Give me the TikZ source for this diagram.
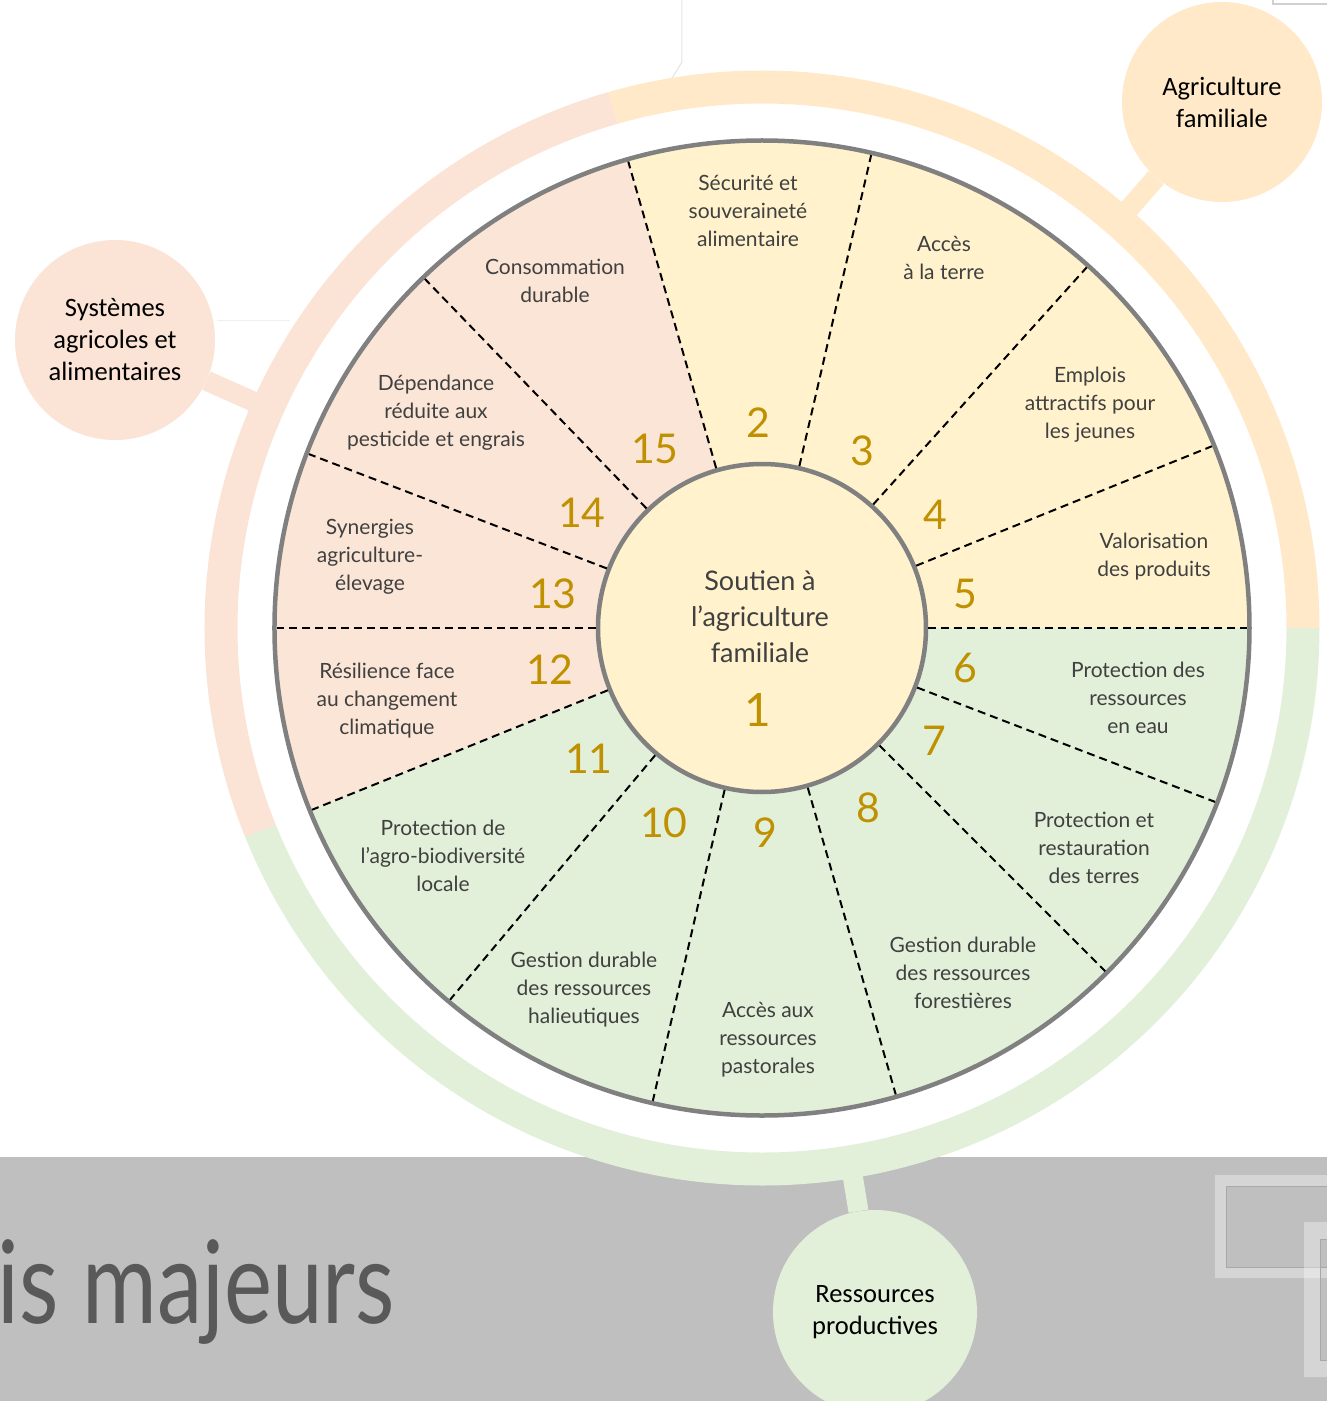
\documentclass[tikz,border=0pt]{standalone}
\usepackage{fontspec}
\setmainfont{Lato}
\newfontfamily\bubblefont{Carlito}
\definecolor{secY}{HTML}{FFF2CC}
\definecolor{secP}{HTML}{FBE5D6}
\definecolor{secG}{HTML}{E2F0D9}
\definecolor{ringY}{HTML}{FFE9C8}
\definecolor{ringP}{HTML}{FBE4D6}
\definecolor{ringG}{HTML}{E2F0DA}
\definecolor{outline}{HTML}{808080}
\definecolor{txtgray}{HTML}{404040}
\definecolor{gold}{HTML}{BF9000}
\definecolor{band}{HTML}{BFBFBF}
\definecolor{bigtxt}{HTML}{595959}
\definecolor{decoline}{HTML}{A8A8A8}
\definecolor{faint}{HTML}{E4E4E4}
\begin{document}
\begin{tikzpicture}[x=1pt,y=1pt,
  sectext/.style={text=txtgray, align=center, inner sep=0pt, font=\fontsize{21}{28}\selectfont},
  numtext/.style={text=gold, inner sep=0pt, font=\fontsize{41}{41}\selectfont},
  bubble/.style={circle, inner sep=0pt, align=center, text=black, font=\bubblefont\fontsize{26.5}{32}\selectfont},
  ringseg/.style={line width=33pt},
  stem/.style={line width=20pt},
  divider/.style={dash pattern=on 8pt off 5pt, line width=2pt, black, shorten >=2.25pt},
  frame/.style={white, opacity=0.35, even odd rule},
  decoline/.style={draw=decoline, line width=1pt}]
\useasboundingbox (-762,-773) rectangle (565,628);
\fill[white] (-762,-773) rectangle (565,628);
\begin{scope}
\clip (-762,-773) rectangle (565,628);
% faint slide artifacts
\draw[faint, line width=1pt] (-80,628) -- (-80,566) -- (-90,550);
\draw[faint!80!gray, line width=1.5pt] (511,628) -- (511,624) -- (565,624);
\draw[faint!60!white, line width=1pt] (-545,307) -- (-472,307);
% grey band at bottom
\fill[band] (-762,-529) rectangle (565,-773);
% decorative frames
\fill[frame] (453,-547) rectangle (600,-650) (464,-558) rectangle (600,-639);
\draw[decoline] (464,-558) rectangle (600,-639);
\fill[frame] (542,-594) rectangle (600,-749) (558,-611) rectangle (600,-732);
\draw[decoline] (558,-611) rectangle (600,-732);
% title text
\node[anchor=base east, inner sep=0pt, text=bigtxt, font=\fontsize{115}{115}\selectfont] (title) at (-367,-695) {\scalebox{0.79}[1]{is majeurs}};
% outer ring
\draw[ringseg, ringY] (106:541) arc[start angle=106, end angle=0, radius=541];
\draw[ringseg, ringG] (0:541) arc[start angle=360, end angle=202, radius=541];
\draw[ringseg, ringP] (202:541) arc[start angle=202, end angle=106, radius=541];
% bubbles
\node[bubble, fill=ringY, minimum size=200pt] (agri) at (460,526) {Agriculture\\familiale};
\node[bubble, fill=ringP, minimum size=200pt] (sys) at (-647,288) {Systèmes\\agricoles et\\alimentaires};
\node[bubble, fill=ringG, minimum size=204pt] (res) at (113,-684) {Ressources\\productives};
\coordinate (ra) at (48.8:541);
\coordinate (rs) at (156:541);
\coordinate (rr) at (-80.6:541);
\draw[stem, ringY] (ra) -- (agri);
\draw[stem, ringP] (rs) -- (sys);
\draw[stem, ringG] (rr) -- (res);
% sectors
\fill[secY] (0,0) -- (0:487.5) arc[start angle=0, end angle=106, radius=487.5] -- cycle;
\fill[secP] (0,0) -- (106:487.5) arc[start angle=106, end angle=202, radius=487.5] -- cycle;
\fill[secG] (0,0) -- (202:487.5) arc[start angle=202, end angle=360, radius=487.5] -- cycle;
\node[circle, draw=outline, line width=4.5pt, minimum size=975pt, inner sep=0pt, outer sep=0pt] (wheel) at (0,0) {};
\node[circle, draw=outline, line width=4.5pt, fill=secY, minimum size=328pt, inner sep=0pt] (hub) at (0,0) {};
\foreach \a in {106,77,48,22,0,339,315,286,257,230,202,180,159,134}
  \draw[divider] (hub.\a) -- (wheel.\a);
% hub text
\node[sectext, font=\fontsize{27}{36}\selectfont] (t1) at (-2,11.5) {Soutien à\\l’agriculture\\familiale};
\node[numtext, font=\fontsize{46}{46}\selectfont] (n1) at (-4,-82) {1};
% sector texts
\node[sectext] (t2) at (-14,417) {Sécurité et\\souveraineté\\alimentaire};
\node[sectext] (t3) at (182,370) {Accès\\à la terre};
\node[sectext] (t4) at (328,223) {Emplois\\attractifs pour\\les jeunes};
\node[sectext] (t5) at (392,71) {Valorisation\\des produits};
\node[sectext] (t6) at (376,-70) {Protection des\\ressources\\en eau};
\node[sectext] (t7) at (332,-220) {Protection et\\restauration\\des terres};
\node[sectext] (t8) at (201,-345) {Gestion durable\\des ressources\\forestières};
\node[sectext] (t9) at (6,-412) {Accès aux\\ressources\\pastorales};
\node[sectext] (t10) at (-178,-362) {Gestion durable\\des ressources\\halieutiques};
\node[sectext] (t11) at (-319,-228) {Protection de\\l’agro-biodiversité\\locale};
\node[sectext] (t12) at (-375,-73) {Résilience face\\au changement\\climatique};
\node[sectext] (t13) at (-392,71) {Synergies\\agriculture-\\élevage};
\node[sectext] (t14) at (-326,215) {Dépendance\\réduite aux\\pesticide et engrais};
\node[sectext] (t15) at (-207,347) {Consommation\\durable};
% numbers
\node[numtext] (n2) at (-4,205) {2};
\node[numtext] (n3) at (100,177) {3};
\node[numtext] (n4) at (173,113) {4};
\node[numtext] (n5) at (203,34) {5};
\node[numtext] (n6) at (203,-40) {6};
\node[numtext] (n7) at (172,-113) {7};
\node[numtext] (n8) at (106,-180) {8};
\node[numtext] (n9) at (3,-205) {9};
\node[numtext] (n10) at (-98,-195) {10};
\node[numtext] (n11) at (-173,-131) {11};
\node[numtext] (n12) at (-212,-42) {12};
\node[numtext] (n13) at (-209,34) {13};
\node[numtext] (n14) at (-180,115) {14};
\node[numtext] (n15) at (-107,179) {15};
\end{scope}
\end{tikzpicture}
\end{document}
